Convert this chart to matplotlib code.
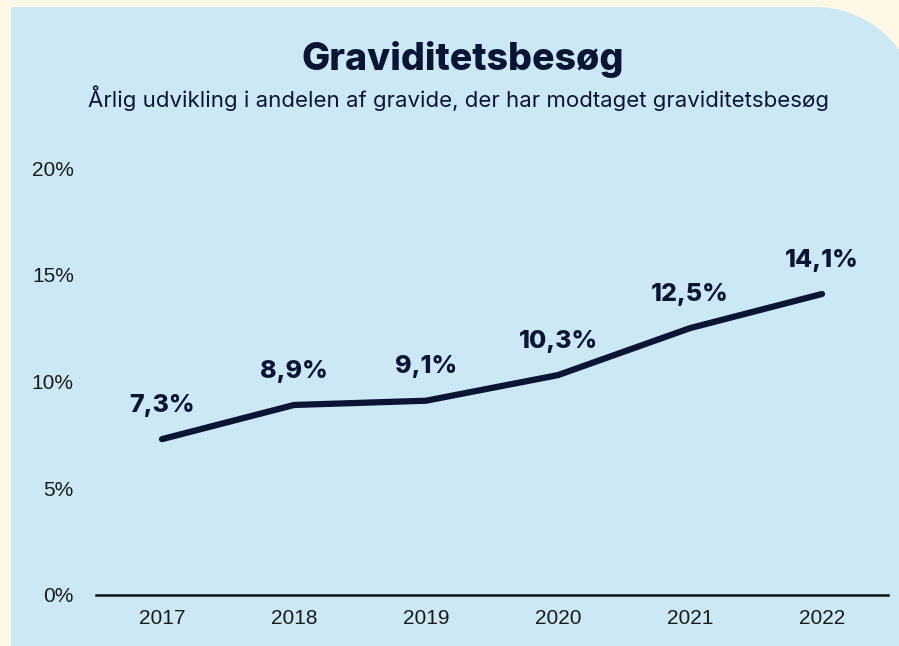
import matplotlib
matplotlib.use("Agg")
import matplotlib.pyplot as plt
from matplotlib.path import Path
from matplotlib.patches import PathPatch
import numpy as np

years = ["2017", "2018", "2019", "2020", "2021", "2022"]
values = [7.3, 8.9, 9.1, 10.3, 12.5, 14.1]
value_labels = ["7,3%", "8,9%", "9,1%", "10,3%", "12,5%", "14,1%"]
yticks = [0, 5, 10, 15, 20]
ytick_labels = ["0%", "5%", "10%", "15%", "20%"]
title = "Graviditetsbesøg"
subtitle = "Årlig udvikling i andelen af gravide, der har modtaget graviditetsbesøg"

W, H = 899, 646
CREAM = "#FFF8E7"
BLUE = "#CCE8F5"
NAVY = "#0B1533"

fig = plt.figure(figsize=(W / 100, H / 100), dpi=100)
fig.patch.set_facecolor(CREAM)

# background panel with rounded top-right corner (pixel coordinates)
bg = fig.add_axes([0, 0, 1, 1], zorder=0)
bg.set_xlim(0, W)
bg.set_ylim(H, 0)
bg.axis("off")
x0, y0, r = 11, 7, 104
cx = 815
cy = y0 + r
theta = np.linspace(np.pi / 2, 0, 40)
arc_x = cx + r * np.cos(theta)
arc_y = cy - r * np.sin(theta)
verts = [(x0, H + 5), (x0, y0), (cx, y0)] + list(zip(arc_x, arc_y)) + [(cx + r, H + 5), (x0, H + 5)]
codes = [Path.MOVETO] + [Path.LINETO] * (len(verts) - 2) + [Path.CLOSEPOLY]
bg.add_patch(PathPatch(Path(verts, codes), facecolor=BLUE, edgecolor="none"))

ax = fig.add_axes([96 / W, 1 - 595 / H, (888 - 96) / W, (595 - 168) / H], zorder=1)
ax.set_facecolor("none")
x = np.arange(len(years))
ax.plot(x, values, color=NAVY, lw=4.5, solid_capstyle="round", solid_joinstyle="round")
for xi, v, lab in zip(x, values, value_labels):
    ax.annotate(lab, (xi, v), xytext=(0, 16), textcoords="offset points",
                ha="center", va="bottom", fontsize=18, fontweight=800,
                color=NAVY, family="Inter")

ax.set_xlim(-0.5, len(years) - 0.5)
ax.set_ylim(0, 20)
ax.set_xticks(x)
ax.set_xticklabels(years)
ax.set_yticks(yticks)
ax.set_yticklabels(ytick_labels)
ax.tick_params(length=0, labelsize=15, colors="#1a1a1a", pad=16)
ax.tick_params(axis="x", pad=10)
for lab in ax.get_xticklabels() + ax.get_yticklabels():
    lab.set_family("Liberation Sans")
for s in ["top", "right", "left"]:
    ax.spines[s].set_visible(False)
ax.spines["bottom"].set_color("#111111")
ax.spines["bottom"].set_linewidth(1.8)

fig.text(463 / W, 1 - 60 / H, title, ha="center", va="center", fontsize=27,
         fontweight=800, color=NAVY, family="Inter")
fig.text(458 / W, 1 - 98 / H, subtitle, ha="center", va="center", fontsize=16,
         color=NAVY, family="Inter")

fig.savefig("out.png", dpi=100, facecolor=CREAM)
